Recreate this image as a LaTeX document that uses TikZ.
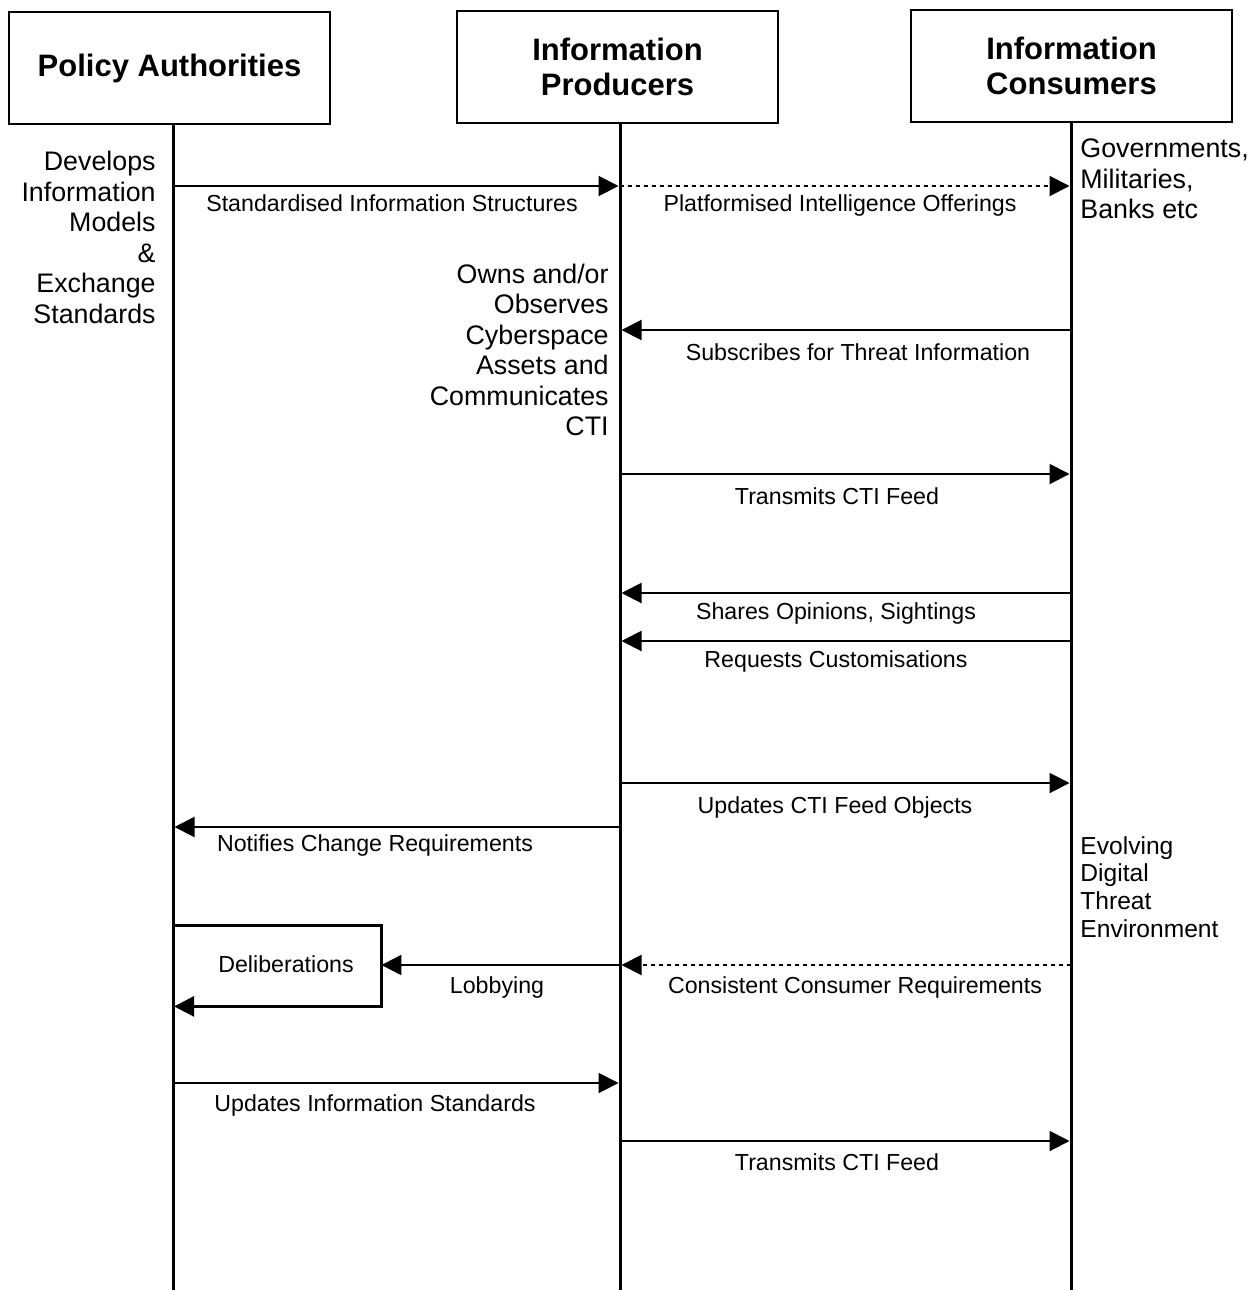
\documentclass[tikz,border=0pt]{standalone}
\usepackage{fontspec}
\setmainfont{Liberation Sans}
\usetikzlibrary{arrows.meta}

\begin{document}
\begin{tikzpicture}[x=0.5pt,y=-0.5pt,
	actor/.style = {draw, line width=1pt, minimum width=160.5pt, minimum height=56pt, align=center, font=\fontsize{15.5}{17.5}\selectfont\bfseries},
	lifeline/.style = {line width=1.5pt},
	msg/.style = {line width=1pt, shorten >=0.75pt, -{Triangle[length=10pt,width=10pt]}},
	reply/.style = {msg, dash pattern=on 2pt off 2pt},
	msglabel/.style = {inner sep=0pt, text height=8.3pt, text depth=0pt, font=\fontsize{11.6}{14}\selectfont},
	note/.style = {inner sep=0pt, font=\fontsize{13.4}{15.25}\selectfont}]
	\useasboundingbox (0,0) rectangle (1256,1290);
	\node[actor] (pa) at (169.5,68) {Policy Authorities};
	\node[actor] (ip) at (617.5,66.5) {Information\\Producers};
	\node[actor] (ic) at (1071.5,66) {Information\\Consumers};
	% points on the lifelines, one per message row
	\foreach \k/\y in {1/186,2/330,3/474,4/593,5/641,6/783,7/827,8/965,9/1083,10/1141,11/1290} {
		\coordinate (pa\k) at (173,\y);
		\coordinate (ip\k) at (620,\y);
		\coordinate (ic\k) at (1071,\y);
	}
	\draw [lifeline] (pa.south -| pa11) -- (pa11);
	\draw [lifeline] (ip.south -| ip11) -- (ip11);
	\draw [lifeline] (ic.south -| ic11) -- (ic11);
	% side notes
	\node[note, align=right, anchor=north east] (develops) at (156,151) {Develops\\Information\\Models\\\&\\Exchange\\Standards};
	\node[note, align=right, anchor=north east] (owns) at (609,263.5) {Owns and/or\\Observes\\Cyberspace\\Assets and\\Communicates\\CTI};
	\node[note, align=left, anchor=north west] (govs) at (1080,138.5) {Governments,\\Militaries,\\Banks etc};
	\node[note, align=left, anchor=north west, font=\fontsize{12.3}{13.85}\selectfont] (threat) at (1080,836) {Evolving\\Digital\\Threat\\Environment};
	% messages
	\draw [msg] (pa1) -- (ip1);
	\node[msglabel] (m1) at (392,203) {Standardised Information Structures};
	\draw [reply] (ip1) -- (ic1);
	\node[msglabel] (m2) at (840,203) {Platformised Intelligence Offerings};
	\draw [msg] (ic2) -- (ip2);
	\node[msglabel] (m3) at (858,352) {Subscribes for Threat Information};
	\draw [msg] (ip3) -- (ic3);
	\node[msglabel] (m4) at (837,496) {Transmits CTI Feed};
	\draw [msg] (ic4) -- (ip4);
	\node[msglabel] (m5) at (836,611) {Shares Opinions, Sightings};
	\draw [msg] (ic5) -- (ip5);
	\node[msglabel] (m6) at (836,659) {Requests Customisations};
	\draw [msg] (ip6) -- (ic6);
	\node[msglabel] (m7) at (835,805) {Updates CTI Feed Objects};
	\draw [msg] (ip7) -- (pa7);
	\node[msglabel] (m8) at (375,843) {Notifies Change Requirements};
	\draw [reply] (ic8) -- (ip8);
	\node[msglabel] (m9) at (855,985) {Consistent Consumer Requirements};
	\node[minimum width=104pt, minimum height=40pt, inner sep=0pt] (delib) at (277,966) {};
	\draw [msg, line width=1.5pt] (delib.north west) -- (delib.north east) -- (delib.south east) -- (delib.south west);
	\node[msglabel] (dlab) at (286,964) {Deliberations};
	\draw [msg, shorten >=0pt] (ip8) -- (delib.east |- ip8);
	\node[msglabel] (m10) at (497,985) {Lobbying};
	\draw [msg] (pa9) -- (ip9);
	\node[msglabel] (m11) at (375,1103) {Updates Information Standards};
	\draw [msg] (ip10) -- (ic10);
	\node[msglabel] (m12) at (837,1162) {Transmits CTI Feed};
\end{tikzpicture}
\end{document}
